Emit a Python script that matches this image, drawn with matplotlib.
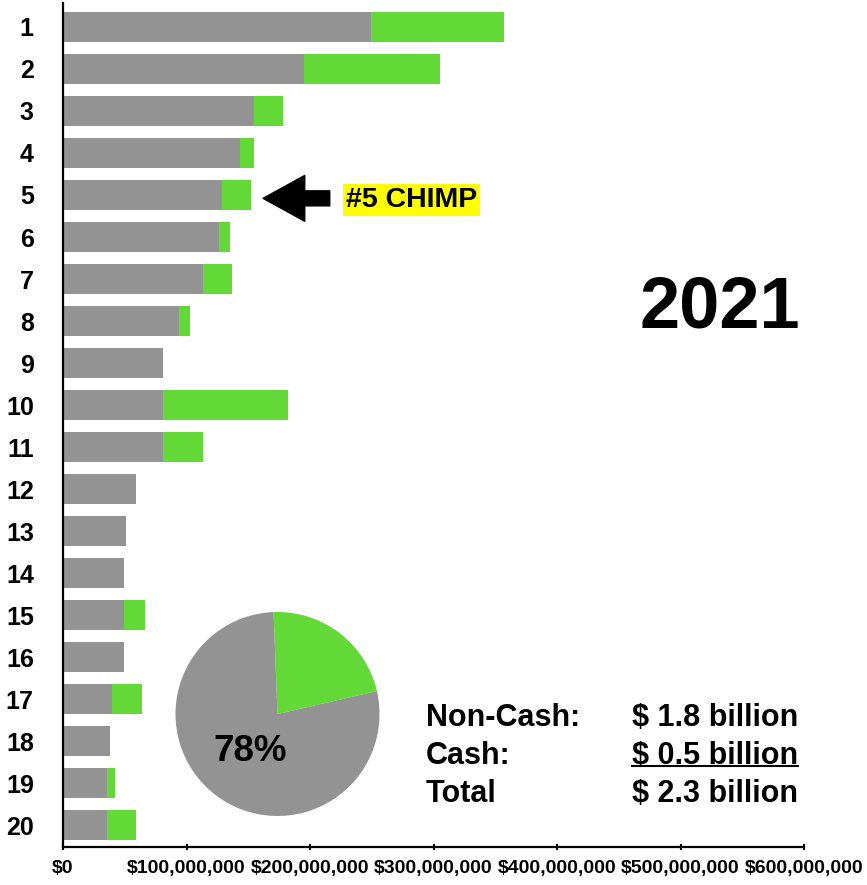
import matplotlib
matplotlib.use('Agg')
import matplotlib.pyplot as plt

plt.rcParams['font.family'] = ['Liberation Sans', 'DejaVu Sans']
plt.rcParams['font.weight'] = 'bold'

# rangos 1..20, valores en millones de dolares
rangos = list(range(1, 21))
no_efectivo = [249, 195, 155, 143, 129, 126, 113, 94, 81, 81, 81, 59, 51, 49, 49, 49, 40, 38, 36, 36]
efectivo = [108, 110, 23, 12, 23, 9, 24, 9, 0, 101, 32, 0, 0, 0, 17, 0, 24, 0, 6, 23]
xticks = [0, 100, 200, 300, 400, 500, 600]
xtick_labels = ['$0', '$100,000,000', '$200,000,000', '$300,000,000',
                '$400,000,000', '$500,000,000', '$600,000,000']
pie_vals = [22, 78]
resumen_izq = ['Non-Cash:', 'Cash:', 'Total']
resumen_der = ['$ 1.8 billion', '$ 0.5 billion', '$ 2.3 billion']

gris = '#939393'
verde = '#62D936'

fig = plt.figure(figsize=(8.67, 8.85), dpi=100)
ax = fig.add_axes([63 / 867, 1 - 847 / 885, 741 / 867, 844 / 885])

ax.barh(rangos, no_efectivo, height=0.714, color=gris)
ax.barh(rangos, efectivo, left=no_efectivo, height=0.714, color=verde)

ax.set_xlim(0, 600)
ax.set_ylim(20.52, 0.43)
ax.set_yticks(rangos)
ax.set_yticklabels([str(r) for r in rangos], fontsize=18, fontweight='bold')
ax.tick_params(axis='y', length=0, pad=21)
ax.set_xticks(xticks)
ax.set_xticklabels(xtick_labels, fontsize=14, fontweight='bold')
ax.tick_params(axis='x', direction='inout', length=5, width=1.5, pad=7)
for s in ['top', 'right']:
    ax.spines[s].set_visible(False)
for s in ['left', 'bottom']:
    ax.spines[s].set_linewidth(1.6)
    ax.spines[s].set_color('black')

# flecha y etiqueta #5
ax.annotate('', xy=(162, 5.08), xytext=(216, 5.08),
            arrowprops=dict(facecolor='black', edgecolor='black', width=10.8,
                            headwidth=33, headlength=30, shrink=0))
ax.text(229, 5.12, '#5 CHIMP', fontsize=20.5, fontweight='bold', va='center', ha='left',
        bbox=dict(boxstyle='square,pad=0.1', facecolor='#FFFF00', edgecolor='none'))

ax.text(532, 7.7, '2021', fontsize=52, fontweight='bold', ha='center', va='center')

# resumen
filas_y = [17.64, 18.54, 19.44]
textos = []
for i in range(3):
    ax.text(294, filas_y[i], resumen_izq[i], fontsize=22, fontweight='bold', va='baseline')
    textos.append(ax.text(460.7, filas_y[i], resumen_der[i], fontsize=22, fontweight='bold', va='baseline'))

fig.canvas.draw()
r = fig.canvas.get_renderer()
bb = textos[1].get_window_extent(r)
x1 = ax.transData.inverted().transform((bb.x1, bb.y0))[0]
ax.plot([460.7, x1], [filas_y[1] + 0.06, filas_y[1] + 0.06], color='black', lw=1.5, clip_on=False)

# pastel
ax_pie = fig.add_axes([(277.5 - 102) / 867, 1 - (714 + 102) / 885, 204 / 867, 204 / 885])
ax_pie.pie(pie_vals, colors=[verde, gris], startangle=13)
ax_pie.set_xlim(-1, 1)
ax_pie.set_ylim(-1, 1)
ax_pie.set_aspect('equal')
ax_pie.text(-0.27, -0.37, '78%', fontsize=26.5, fontweight='bold', ha='center', va='center')

fig.savefig('out.png', dpi=100)
